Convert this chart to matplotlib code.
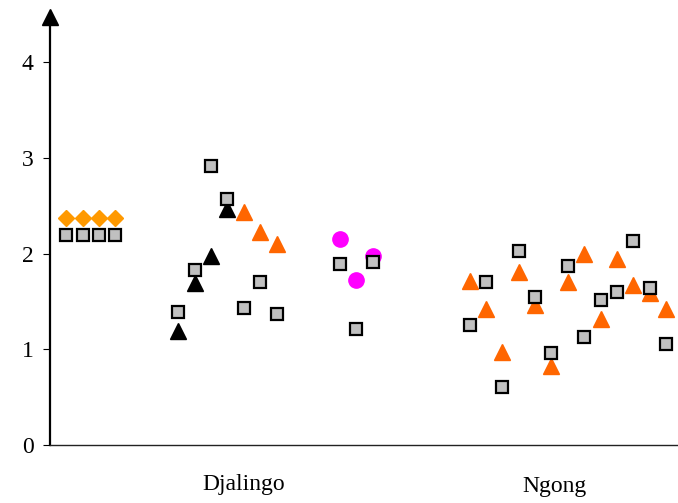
import matplotlib
matplotlib.use("Agg")
import matplotlib.pyplot as plt
import numpy as np
from matplotlib.transforms import blended_transform_factory, ScaledTranslation

plt.rcParams["font.family"] = ["Liberation Serif", "DejaVu Serif"]

# Reference standard (leftmost group)
ref_diamond = [2.375, 2.375, 2.375, 2.375]
ref_square = [2.19, 2.19, 2.19, 2.19]

# Djalingo
dja_square = [1.39, 1.83, 2.92, 2.57, 1.43, 1.70, 1.37]
dja_tri_black = [1.19, 1.69, 1.98, 2.47]
dja_tri_orange = [2.43, 2.23, 2.10]

# Intermediate group
mid_circle = [2.15, 1.72, 1.97]
mid_square = [1.89, 1.21, 1.91]

# Ngong
ngo_tri = [1.71, 1.42, 0.97, 1.81, 1.46, 0.83, 1.70, 2.00, 1.32, 1.94, 1.67, 1.585, 1.42]
ngo_square = [1.25, 1.70, 0.61, 2.03, 1.55, 0.96, 1.87, 1.125, 1.515, 1.60, 2.135, 1.64, 1.06]

group_labels = ["Djalingo", "Ngong"]
label_slots = [11.85, 30.79]
yticks = [0, 1, 2, 3, 4]

# slot positions of each group along the x axis
ref_start, dja_start, mid_start, ngo_start = 1.0, 7.84, 17.71, 25.63
x_ref = ref_start + np.arange(len(ref_square))
x_dja = dja_start + np.arange(len(dja_square))
x_mid = mid_start + np.arange(len(mid_square))
x_ngo = ngo_start + np.arange(len(ngo_square))

W, H = 678, 503
fig = plt.figure(figsize=(W / 100, H / 100), dpi=100)
ax_left, ax_bottom, ax_top = 50, 445, 16.8
ax = fig.add_axes([ax_left / W, (H - ax_bottom) / H, (W - ax_left) / W, (ax_bottom - ax_top) / H])

sq_style = dict(marker="s", markersize=9.2, markerfacecolor="#C0C0C0",
                markeredgecolor="black", markeredgewidth=1.6, linestyle="none", zorder=5)
tri_size = 12

# triangles and circles underneath
ax.plot(x_dja[:4], dja_tri_black, marker="^", markersize=tri_size, color="black",
        linestyle="none", zorder=3)
ax.plot(x_dja[4:], dja_tri_orange, marker="^", markersize=tri_size, color="#FF6600",
        linestyle="none", zorder=3)
ax.plot(x_ngo, ngo_tri, marker="^", markersize=tri_size, color="#FF6600",
        linestyle="none", zorder=3)
ax.plot(x_mid, mid_circle, marker="o", markersize=11, color="#FF00FF",
        linestyle="none", zorder=3)
ax.plot(x_ref, ref_diamond, marker="D", markersize=8.3, color="#FF9900",
        linestyle="none", zorder=3)

# squares on top
ax.plot(x_ref, ref_square, **sq_style)
ax.plot(x_dja, dja_square, **sq_style)
ax.plot(x_mid, mid_square, **sq_style)
ax.plot(x_ngo, ngo_square, **sq_style)

ax.set_xlim(0, (W - ax_left) / 16.37)
ax.set_ylim(0, (ax_bottom - ax_top) / 95.7)

for s in ("top", "right"):
    ax.spines[s].set_visible(False)
ax.spines["left"].set_linewidth(1.6)
ax.spines["bottom"].set_linewidth(1.0)
ax.spines["bottom"].set_color("#222222")

ax.set_xticks([])
ax.set_yticks(yticks)
ax.set_yticklabels([str(v) for v in yticks])
ax.tick_params(axis="y", direction="out", length=5.2, width=0.8, pad=6.5,
               labelsize=17)

# arrow head on the y axis
ax.plot([0], [1], marker="^", markersize=11, color="black", transform=ax.transAxes,
        clip_on=False, zorder=6)

# group labels under the axis
trans = blended_transform_factory(ax.transData, ax.transAxes)
ax.text(label_slots[0], 0, group_labels[0], transform=trans + ScaledTranslation(0, -29 / 100, fig.dpi_scale_trans),
        ha="center", va="top", fontsize=17)
ax.text(label_slots[1], 0, group_labels[1], transform=trans + ScaledTranslation(0, -31 / 100, fig.dpi_scale_trans),
        ha="center", va="top", fontsize=17)

fig.savefig("out.png", dpi=100)
